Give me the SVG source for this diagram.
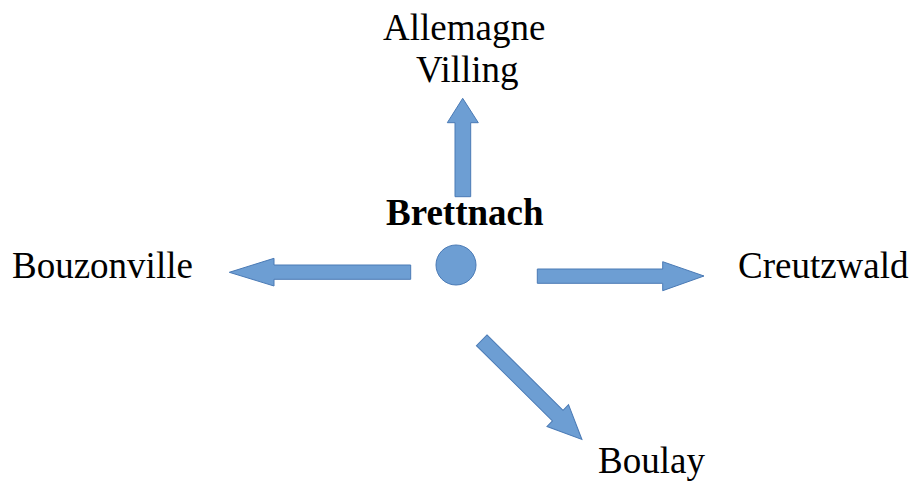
<svg xmlns="http://www.w3.org/2000/svg" width="910" height="484" viewBox="0 0 910 484">
<style>
.lbl{font-family:"Liberation Serif","Times New Roman",serif;font-size:37px;fill:#000}
.b{font-weight:bold}
.arr{fill:#6d9ed3;stroke:#4a7ab5;stroke-width:1}
</style>
<rect width="910" height="484" fill="#fff"/>
<g id="connectors">
<polygon class="arr" points="455,196.7 455,122.7 447.3,122.7 462.7,98.3 478.3,122.7 470.7,122.7 470.7,196.7"/>
<polygon class="arr" points="410.7,265 274,265 274,258.3 229.3,272.3 274,286 274,279.3 410.7,279.3"/>
<polygon class="arr" points="537.3,269 662.7,269 662.7,261.7 704,276 662.7,290.7 662.7,283.3 537.3,283.3"/>
<polygon class="arr" transform="translate(481.7,340.3) rotate(44.7)" points="0,-7.5 107,-7.5 107,-15.3 141,0 107,15.3 107,7.5 0,7.5"/>
</g>
<g id="brettnach">
<circle class="arr" cx="456" cy="265" r="20"/>
<text class="lbl b" x="386" y="225">Brettnach</text>
</g>
<g id="allemagne">
<text class="lbl" x="383" y="40">Allemagne</text>
<text class="lbl" x="416" y="82">Villing</text>
</g>
<g id="bouzonville"><text class="lbl" x="12" y="278">Bouzonville</text></g>
<g id="creutzwald"><text class="lbl" x="738" y="278">Creutzwald</text></g>
<g id="boulay"><text class="lbl" x="598" y="473">Boulay</text></g>
</svg>
